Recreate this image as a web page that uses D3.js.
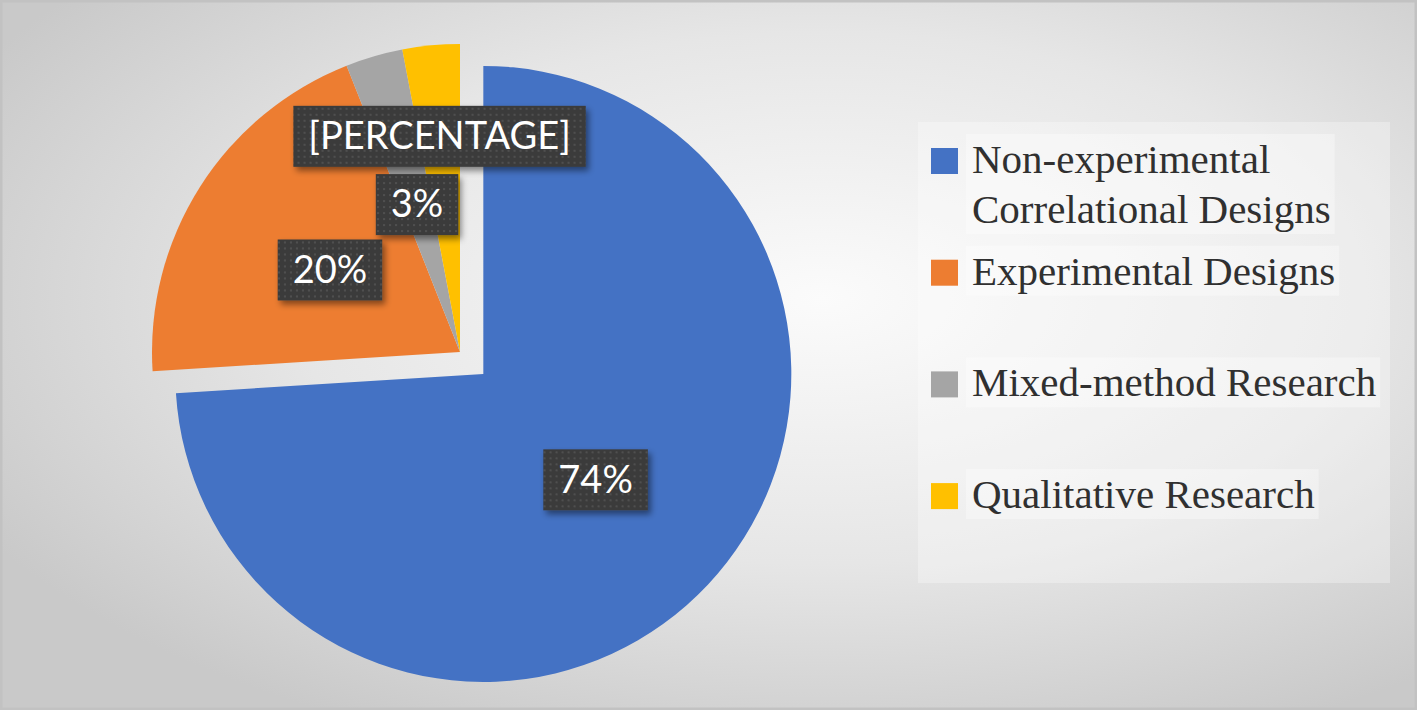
<!DOCTYPE html>
<html>
<head>
<meta charset="utf-8">
<script src="https://cdn.jsdelivr.net/npm/d3@7"></script>
<style>
  html, body { margin: 0; padding: 0; background: #dcdcdc; }
  svg { display: block; }
</style>
</head>
<body>
<div class="svg-container"></div>
<script>
    const categories = ["Non-experimental Correlational Designs", "Experimental Designs", "Mixed-method Research", "Qualitative Research"];
    const values = [74, 20, 3, 3];
    const label_texts = ["74%", "20%", "3%", "[PERCENTAGE]"];
    const colors = ["#4472C4", "#ED7D31", "#A5A5A5", "#FFC000"];

    const width = 1417, height = 710;
    const pie_cx = 460, pie_cy = 352, radius = 308;

    const svg = d3.select('.svg-container').append('svg')
        .attr('width', width).attr('height', height);

    const defs = svg.append('defs');
    const bg = defs.append('radialGradient').attr('id', 'bg')
        .attr('cx', '58%').attr('cy', '42%').attr('r', '68%');
    bg.append('stop').attr('offset', '0%').attr('stop-color', '#fbfbfb');
    bg.append('stop').attr('offset', '55%').attr('stop-color', '#e6e6e6');
    bg.append('stop').attr('offset', '100%').attr('stop-color', '#c9c9c9');

    const dots = defs.append('pattern').attr('id', 'dots')
        .attr('width', 6).attr('height', 6).attr('patternUnits', 'userSpaceOnUse');
    dots.append('rect').attr('width', 6).attr('height', 6).attr('fill', '#3b3b3b');
    dots.append('circle').attr('cx', 3).attr('cy', 3).attr('r', 0.9).attr('fill', '#5a5a5a');

    const shadow = defs.append('filter').attr('id', 'shadow')
        .attr('x', '-20%').attr('y', '-20%').attr('width', '150%').attr('height', '160%');
    shadow.append('feDropShadow').attr('dx', 3).attr('dy', 4).attr('stdDeviation', 3)
        .attr('flood-color', '#000').attr('flood-opacity', 0.45);

    // background + frame
    svg.append('rect').attr('width', width).attr('height', height).attr('fill', 'url(#bg)');
    svg.append('rect').attr('x', 1).attr('y', 1).attr('width', width - 2).attr('height', height - 2)
        .attr('fill', 'none').attr('stroke', '#c2c2c2').attr('stroke-width', 3);

    // pie
    const pie = d3.pie().sort(null).value(d => d);
    const arcs = pie(values);
    const arc = d3.arc().innerRadius(0).outerRadius(radius);
    const explode = [32, 0, 0, 0];
    const offset = d => {
        const a = (d.startAngle + d.endAngle) / 2;
        return [Math.sin(a) * explode[d.index], -Math.cos(a) * explode[d.index]];
    };

    const g_pie = svg.append('g').attr('transform', `translate(${pie_cx},${pie_cy})`);
    g_pie.selectAll('path.slice')
        .data(arcs)
        .enter()
        .append('path')
          .attr('class', 'slice')
          .attr('d', arc)
          .attr('fill', (d, i) => colors[i])
          .attr('transform', d => `translate(${offset(d)})`);

    // data labels (last one nudged outward, like Excel's best fit)
    const label_factor = [0.5, 0.5, 0.5, 0.705];
    const g_labels = g_pie.selectAll('g.label')
        .data(arcs)
        .enter()
        .append('g')
          .attr('class', 'label')
          .attr('transform', d => {
              const a = (d.startAngle + d.endAngle) / 2;
              const r = radius * label_factor[d.index];
              const o = offset(d);
              return `translate(${o[0] + Math.sin(a) * r},${o[1] - Math.cos(a) * r})`;
          });
    g_labels.append('rect').attr('class', 'box');
    g_labels.append('text')
        .attr('text-anchor', 'middle')
        .attr('dy', '0.35em')
        .style('font-family', 'Lato, "Open Sans", sans-serif')
        .style('font-size', '38px')
        .attr('fill', '#ffffff')
        .text((d, i) => label_texts[i]);
    g_labels.each(function() {
        const g = d3.select(this);
        const bb = g.select('text').node().getBBox();
        g.select('rect.box')
            .attr('x', -bb.width / 2 - 15).attr('y', -30)
            .attr('width', bb.width + 30).attr('height', 61)
            .attr('fill', 'url(#dots)')
            .attr('filter', 'url(#shadow)');
    });

    // legend
    const g_legend = svg.append('g').attr('transform', 'translate(918,122)');
    g_legend.append('rect').attr('width', 472).attr('height', 461)
        .attr('fill', '#ffffff').attr('fill-opacity', 0.3);

    const legend_item = g_legend.selectAll('g.item')
        .data(categories)
        .enter()
        .append('g')
          .attr('class', 'item')
          .attr('transform', (d, i) => `translate(13,${26 + i * 111.7})`);
    legend_item.append('rect').attr('class', 'hl');
    legend_item.append('rect')
        .attr('width', 27).attr('height', 26)
        .attr('fill', (d, i) => colors[i]);
    legend_item.append('text')
        .attr('x', 41)
        .style('font-family', '"Liberation Serif", "Times New Roman", serif')
        .style('font-size', '41px')
        .attr('fill', '#303030')
        .each(function(d) {
            const t = d3.select(this);
            const words = d.split(' ');
            let line = [], lineNo = 0;
            let tspan = t.append('tspan').attr('x', 41).attr('y', 25);
            words.forEach(w => {
                line.push(w);
                tspan.text(line.join(' '));
                if (tspan.node().getComputedTextLength() > 420 && line.length > 1) {
                    line.pop();
                    tspan.text(line.join(' '));
                    line = [w];
                    lineNo++;
                    tspan = t.append('tspan').attr('x', 41).attr('y', 25 + lineNo * 50).text(w);
                }
            });
        });
    legend_item.each(function() {
        const g = d3.select(this);
        const bb = g.select('text').node().getBBox();
        g.select('rect.hl')
            .attr('x', bb.x - 6).attr('y', bb.y - 2)
            .attr('width', bb.width + 10).attr('height', bb.height + 4)
            .attr('fill', '#ffffff').attr('fill-opacity', 0.35);
    });
</script>
</body>
</html>
